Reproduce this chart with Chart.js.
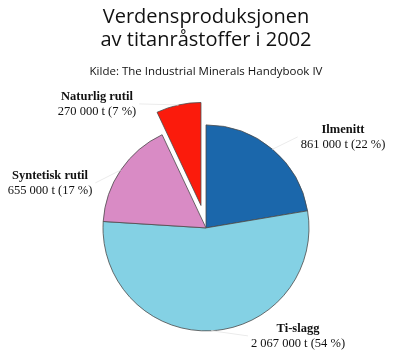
<!DOCTYPE html>
<html>
<head>
<meta charset="utf-8">
<script src="https://cdn.jsdelivr.net/npm/chart.js@4.4.1/dist/chart.umd.min.js"></script>
<style>
  html, body { margin: 0; padding: 0; background: #fff; }
  #ramme { width: 397px; height: 359px; }
</style>
</head>
<body>
<div id="ramme"><canvas id="kake" width="397" height="359"></canvas></div>
<script>
// ==============================
// DATA
// ==============================
const kategorier = ["Ilmenitt", "Ti-slagg", "Syntetisk rutil", "Naturlig rutil"];
const tonn = [861000, 2067000, 655000, 270000];
const prosent = [22, 54, 17, 7];
const farger = ["#1b67ab", "#84d1e4", "#d98bc5", "#fb1b0c"];
const utskyv = [0, 0, 0, 23];

// plassering av etikettene, relativt til kakens sentrum
const etikettPlass = [[137, -98], [92, 101], [-156, -52], [-109, -131]];

function tusen(n) {
    return String(n).replace(/\B(?=(\d{3})+(?!\d))/g, " ");
}

// ==============================
// UTSKYVING AV SEKTOR
// (samme radius, bare flyttet langs midtvinkelen)
// ==============================
const utskyving = {
    id: 'utskyving',
    afterDatasetsUpdate(chart) {
        const meta = chart.getDatasetMeta(0);
        meta.data.forEach((bue, i) => {
            if (!utskyv[i]) return;
            const midt = (bue.startAngle + bue.endAngle) / 2;
            bue.x += Math.cos(midt) * utskyv[i];
            bue.y += Math.sin(midt) * utskyv[i];
        });
    }
};

// ==============================
// ETIKETTER MED STREK
// ==============================
const etiketter = {
    id: 'etiketter',
    afterDatasetsDraw(chart) {
        const ctx = chart.ctx;
        const meta = chart.getDatasetMeta(0);
        const cx = meta.data[0].x;
        const cy = meta.data[0].y;

        meta.data.forEach((bue, i) => {
            const midt = (bue.startAngle + bue.endAngle) / 2;
            const lx = cx + etikettPlass[i][0];
            const ly = cy + etikettPlass[i][1];

            const linje1 = kategorier[i];
            const linje2 = tusen(tonn[i]) + " t (" + prosent[i] + " %)";

            ctx.save();
            ctx.font = "bold 12.5px 'Liberation Serif'";
            const b1 = ctx.measureText(linje1).width;
            ctx.font = "12.5px 'Liberation Serif'";
            const b2 = ctx.measureText(linje2).width;
            const halv = Math.max(b1, b2) / 2;

            // svak strek fra buen til teksten
            const sx = bue.x + Math.cos(midt) * bue.outerRadius;
            const sy = bue.y + Math.sin(midt) * bue.outerRadius;
            const ex = lx > cx ? lx - halv - 3 : lx + halv + 3;
            const ey = ly + 7;
            ctx.strokeStyle = "#ebebeb";
            ctx.lineWidth = 1;
            ctx.beginPath();
            ctx.moveTo(sx, sy);
            ctx.lineTo(ex, ey);
            ctx.stroke();

            ctx.fillStyle = "#111";
            ctx.textAlign = "center";
            ctx.textBaseline = "middle";
            ctx.font = "bold 12.5px 'Liberation Serif'";
            ctx.fillText(linje1, lx, ly);
            ctx.font = "12.5px 'Liberation Serif'";
            ctx.fillText(linje2, lx, ly + 15);
            ctx.restore();
        });
    }
};

// ==============================
// KAKEDIAGRAM
// ==============================
new Chart(document.getElementById('kake'), {
    type: 'pie',
    data: {
        labels: kategorier,
        datasets: [{
            data: tonn,
            backgroundColor: farger,
            borderColor: "#4a4a4a",
            borderWidth: 0.8
        }]
    },
    options: {
        responsive: false,
        animation: false,
        radius: 103,
        layout: {
            padding: { left: 15, right: 0, top: 0, bottom: 10 }
        },
        plugins: {
            legend: { display: false },
            tooltip: { enabled: false },
            title: {
                display: true,
                text: ["Verdensproduksjonen", "av titanråstoffer i 2002"],
                color: "#111",
                font: { family: "'Open Sans'", size: 20, weight: 'normal', lineHeight: 1.15 },
                padding: { top: 6, bottom: 0 }
            },
            subtitle: {
                display: true,
                text: "Kilde: The Industrial Minerals Handybook IV",
                color: "#111",
                font: { family: "'Open Sans'", size: 11.5, weight: 'normal', lineHeight: 1.2 },
                padding: { top: 13, bottom: 28 }
            }
        }
    },
    plugins: [utskyving, etiketter]
});
</script>
</body>
</html>
